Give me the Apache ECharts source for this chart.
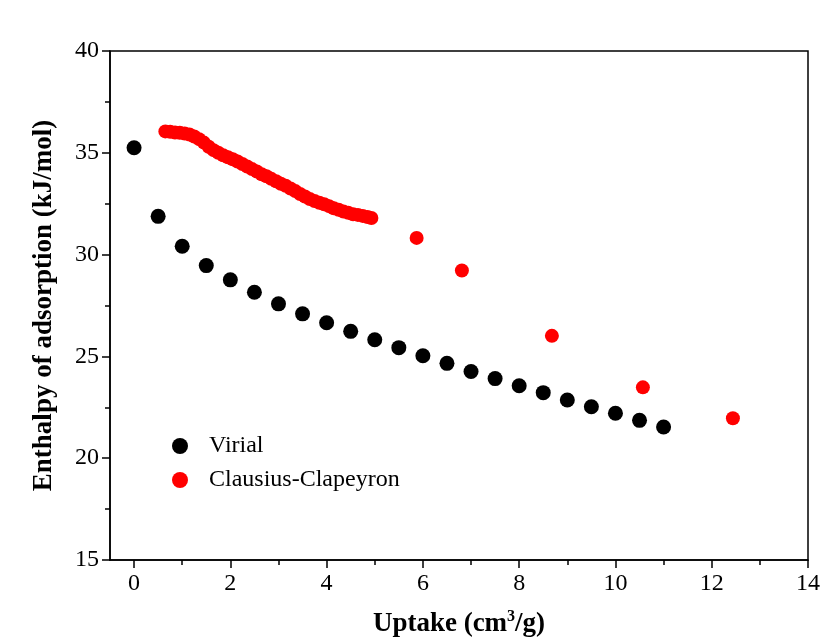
<!DOCTYPE html>
<html>
<head>
<meta charset="utf-8">
<script src="https://cdn.jsdelivr.net/npm/echarts@6/dist/echarts.min.js"></script>
<style>
  html, body { margin: 0; padding: 0; background: #fff; }
  #chart { width: 838px; height: 641px; }
</style>
</head>
<body>
<div id="chart"></div>
<script>
// Virial points
const virialX = [0, 0.5, 1, 1.5, 2, 2.5, 3, 3.5, 4, 4.5, 5, 5.5, 6, 6.5, 7, 7.5, 8, 8.5, 9, 9.5, 10, 10.5, 11]
const virialY = [35.25, 31.88, 30.41, 29.46, 28.76, 28.15, 27.58, 27.09, 26.65, 26.23, 25.82, 25.43, 25.03, 24.66, 24.26, 23.91, 23.56, 23.22, 22.86, 22.53, 22.21, 21.86, 21.53]

// Clausius-Clapeyron points (dense low-uptake part + sparse tail)
const ccX = [0.65, 0.75, 0.85, 0.95, 1.05, 1.15, 1.25, 1.35, 1.45, 1.55, 1.65, 1.75, 1.85, 1.95,
  2.05, 2.15, 2.25, 2.35, 2.45, 2.55, 2.65, 2.75, 2.85, 2.95, 3.05, 3.15, 3.25, 3.35, 3.45, 3.55,
  3.65, 3.75, 3.85, 3.95, 4.05, 4.15, 4.25, 4.35, 4.45, 4.55, 4.65, 4.75, 4.85, 4.93,
  5.87, 6.81, 8.68, 10.57, 12.44]
const ccY = [36.05, 36.03, 36.0, 35.98, 35.95, 35.9, 35.8, 35.67, 35.5, 35.3, 35.13, 35.0, 34.88, 34.78,
  34.68, 34.57, 34.45, 34.33, 34.2, 34.08, 33.95, 33.85, 33.72, 33.6, 33.48, 33.38, 33.25, 33.12, 32.98, 32.85,
  32.73, 32.63, 32.55, 32.47, 32.38, 32.28, 32.2, 32.12, 32.05, 31.98, 31.95, 31.9, 31.85, 31.8,
  30.82, 29.22, 26.01, 23.48, 21.96]

const xMajor = [0, 2, 4, 6, 8, 10, 12, 14]
const xMinor = [1, 3, 5, 7, 9, 11, 13]

const font = '"Liberation Serif", "DejaVu Serif", serif'
const chart = echarts.init(document.getElementById('chart'))

const zip = (xs, ys) => xs.map((x, i) => [x, ys[i]])

chart.setOption({
  animation: false,
  backgroundColor: '#fff',
  grid: {
    left: 110, right: 30, top: 51, bottom: 81,
    outerBoundsMode: 'none',
    containLabel: false,
    show: true, borderColor: '#000', borderWidth: 1.5, backgroundColor: 'transparent'
  },
  legend: {
    orient: 'vertical',
    left: 167,
    top: 429,
    itemGap: 10,
    itemWidth: 16,
    itemHeight: 16,
    icon: 'circle',
    textStyle: { fontFamily: font, fontSize: 24, color: '#000', padding: [0, 0, 0, 16] },
    data: ['Virial', 'Clausius-Clapeyron']
  },
  xAxis: [
    {
      type: 'value',
      min: -0.5,
      max: 14,
      position: 'bottom',
      name: 'Uptake (cm{sup|3}/g)',
      nameLocation: 'middle',
      nameGap: 49,
      nameTextStyle: {
        fontFamily: font, fontSize: 27, fontWeight: 'bold', color: '#000',
        rich: { sup: { fontFamily: font, fontSize: 16, fontWeight: 'bold', verticalAlign: 'bottom', padding: [0, 0, 15, 0] } }
      },
      axisLine: { show: true, onZero: false, lineStyle: { color: '#000', width: 1.5 } },
      axisTick: { show: true, inside: false, length: 8, customValues: xMajor, lineStyle: { color: '#000', width: 1.5 } },
      axisLabel: { customValues: xMajor, fontFamily: font, fontSize: 24, color: '#000', margin: 12 },
      splitLine: { show: false }
    },
    {
      type: 'value',
      min: -0.5,
      max: 14,
      position: 'bottom',
      axisLine: { show: false, onZero: false },
      axisTick: { show: true, inside: false, length: 5, customValues: xMinor, lineStyle: { color: '#000', width: 1.5 } },
      axisLabel: { show: false },
      splitLine: { show: false }
    }
  ],
  yAxis: {
    type: 'value',
    min: 15,
    max: 40,
    interval: 5,
    name: 'Enthalpy of adsorption (kJ/mol)',
    nameLocation: 'middle',
    nameGap: 52,
    nameTextStyle: { fontFamily: font, fontSize: 27, fontWeight: 'bold', color: '#000' },
    axisLine: { show: true, onZero: false, lineStyle: { color: '#000', width: 1.5 } },
    axisTick: { show: true, inside: false, length: 8, lineStyle: { color: '#000', width: 1.5 } },
    minorTick: { show: true, splitNumber: 2, length: 5, lineStyle: { color: '#000', width: 1.5 } },
    axisLabel: { fontFamily: font, fontSize: 24, color: '#000', margin: 11 },
    splitLine: { show: false }
  },
  series: [
    {
      name: 'Virial',
      type: 'scatter',
      symbol: 'circle',
      symbolSize: 15,
      itemStyle: { color: '#000', opacity: 1 },
      data: zip(virialX, virialY)
    },
    {
      name: 'Clausius-Clapeyron',
      type: 'scatter',
      symbol: 'circle',
      symbolSize: 14,
      itemStyle: { color: '#ff0000', opacity: 1 },
      data: zip(ccX, ccY)
    }
  ]
})
</script>
</body>
</html>
